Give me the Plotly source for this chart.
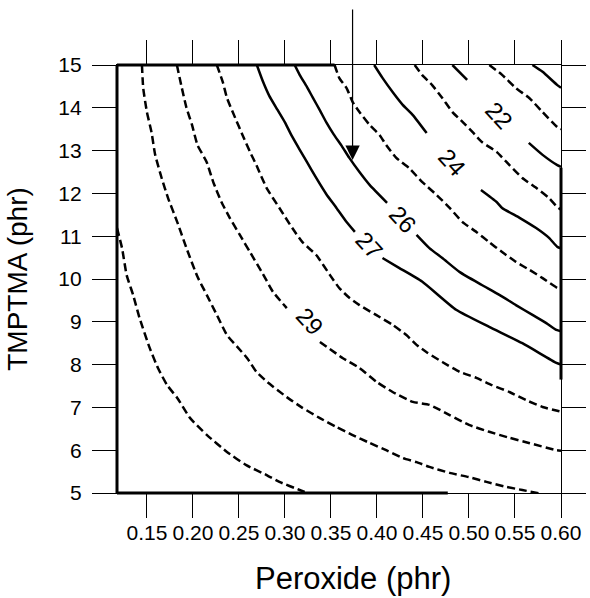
import plotly.graph_objects as go

# ---------------- data ----------------
x_ticks = [0.15, 0.20, 0.25, 0.30, 0.35, 0.40, 0.45, 0.50, 0.55, 0.60]
y_ticks = [5, 6, 7, 8, 9, 10, 11, 12, 13, 14, 15]

# contour lines, from lower-left (high value) to upper-right (low value)
c31_x = [0.1175, 0.123, 0.128, 0.135, 0.142, 0.153, 0.162, 0.172, 0.183, 0.197, 0.215, 0.237, 0.258, 0.280, 0.294, 0.316, 0.325]
c31_y = [11.19, 10.72, 10.09, 9.63, 9.09, 8.39, 7.92, 7.52, 7.22, 6.75, 6.36, 5.96, 5.65, 5.42, 5.26, 5.07, 5.0]

c30_x = [0.1446, 0.146, 0.150, 0.155, 0.159, 0.166, 0.173, 0.183, 0.193, 0.205, 0.215, 0.226, 0.237, 0.248, 0.259, 0.269, 0.281,
         0.302, 0.319, 0.338, 0.356, 0.373, 0.392, 0.410, 0.428, 0.443, 0.457, 0.479, 0.500, 0.519, 0.541, 0.558, 0.579]
c30_y = [15.0, 14.46, 13.90, 13.43, 12.90, 12.36, 11.89, 11.33, 10.72, 10.05, 9.63, 9.16, 8.69, 8.42, 8.15, 7.83, 7.59,
         7.24, 6.99, 6.75, 6.54, 6.36, 6.17, 6.00, 5.82, 5.72, 5.61, 5.47, 5.37, 5.26, 5.14, 5.07, 4.98]

c29_x = [0.1826, 0.188, 0.193, 0.199, 0.205, 0.215, 0.222, 0.231, 0.240, 0.251, 0.262, 0.276, 0.287, 0.302, None,
         0.338, 0.363, 0.381, 0.400, 0.417, 0.439, 0.457, 0.479, 0.500, 0.522, 0.544, 0.565, 0.595, 0.600]
c29_y = [15.0, 14.46, 14.0, 13.6, 13.13, 12.73, 12.27, 11.8, 11.43, 11.03, 10.63, 10.12, 9.70, 9.32, None,
         8.53, 8.15, 7.92, 7.59, 7.36, 7.13, 7.06, 6.82, 6.59, 6.43, 6.29, 6.17, 6.0, 5.99]

c28_x = [0.226, 0.2325, 0.237, 0.246, 0.254, 0.262, 0.269, 0.280, 0.294, 0.308, 0.319, 0.334, 0.349, 0.359, 0.370, 0.381,
         0.399, 0.417, 0.432, 0.443, 0.454, 0.471, 0.490, 0.508, 0.525, 0.544, 0.562, 0.580, 0.596, 0.600]
c28_y = [15.0, 14.6, 14.23, 13.76, 13.36, 12.97, 12.66, 12.13, 11.66, 11.19, 10.86, 10.56, 10.09, 9.79, 9.56, 9.39,
         9.16, 8.93, 8.69, 8.46, 8.29, 8.06, 7.83, 7.69, 7.52, 7.36, 7.17, 7.01, 6.92, 6.90]

c27_x = [0.2695, 0.276, 0.283, 0.292, 0.300, 0.307, 0.315, 0.324, 0.334, 0.345, 0.356, 0.367, 0.376, None,
         0.406, 0.424, 0.449, 0.486, 0.522, 0.558, 0.595, 0.600]
c27_y = [15.0, 14.62, 14.28, 13.95, 13.66, 13.36, 13.06, 12.73, 12.36, 11.98, 11.66, 11.33, 11.10, None,
         10.49, 10.26, 9.94, 9.28, 8.88, 8.50, 8.04, 8.0]

c26_x = [0.3106, 0.316, 0.3236, 0.330, 0.338, 0.345, 0.353, 0.362, 0.370, 0.381, 0.392, 0.411, None,
         0.443, 0.457, 0.471, 0.490, 0.514, 0.533, 0.551, 0.569, 0.584, 0.595, 0.600]
c26_y = [15.0, 14.77, 14.50, 14.25, 13.94, 13.66, 13.38, 13.10, 12.83, 12.50, 12.20, 11.78, None,
         11.03, 10.72, 10.49, 10.16, 9.86, 9.63, 9.39, 9.16, 8.97, 8.81, 8.78]

c25_x = [0.354, 0.359, 0.367, 0.3735, 0.381, 0.392, 0.403, 0.410, 0.421, 0.435, 0.449, 0.465, 0.479, 0.493, 0.508,
         0.522, 0.536, 0.551, 0.566, 0.580, 0.596, 0.600]
c25_y = [15.0, 14.70, 14.46, 14.14, 13.90, 13.60, 13.36, 13.13, 12.83, 12.59, 12.27, 11.96, 11.66, 11.33, 11.10,
         10.86, 10.63, 10.40, 10.21, 10.02, 9.79, 9.76]

c24_x = [0.397, 0.406, 0.417, 0.428, 0.439, 0.454, None, 0.513, 0.530, 0.536, 0.555, 0.573, 0.587, 0.596, 0.600]
c24_y = [15.0, 14.70, 14.37, 14.07, 13.83, 13.41, None, 12.08, 11.80, 11.66, 11.43, 11.19, 10.96, 10.75, 10.72]

c23_x = [0.441, 0.449, 0.460, 0.471, 0.482, 0.493, 0.504, 0.514, 0.530, 0.544, 0.558, 0.573, 0.587, 0.596, 0.600]
c23_y = [15.0, 14.77, 14.53, 14.23, 13.90, 13.67, 13.43, 13.20, 12.97, 12.66, 12.36, 12.13, 11.89, 11.68, 11.62]

c22_x = [0.482, 0.498, None, 0.565, 0.580, 0.596, 0.600]
c22_y = [15.0, 14.65, None, 13.18, 12.90, 12.66, 12.62]

c21_x = [0.5221, 0.536, 0.551, 0.5655, 0.580, 0.596, 0.600]
c21_y = [15.0, 14.77, 14.46, 14.23, 13.90, 13.55, 13.50]

c20_x = [0.569, 0.580, 0.596, 0.600]
c20_y = [15.0, 14.84, 14.53, 14.47]

label_text = ["29", "27", "26", "24", "22"]
label_x = [0.327, 0.392, 0.428, 0.482, 0.533]
label_y = [9.0, 10.79, 11.38, 12.73, 13.83]

arrow_x = 0.3735
arrow_y = 12.78

x_title = "Peroxide (phr)"
y_title = "TMPTMA (phr)"

# ---------------- figure ----------------
contours = [
    (c31_x, c31_y, "dash"), (c30_x, c30_y, "dash"), (c29_x, c29_y, "dash"),
    (c28_x, c28_y, "dash"), (c27_x, c27_y, "solid"), (c26_x, c26_y, "solid"),
    (c25_x, c25_y, "dash"), (c24_x, c24_y, "solid"), (c23_x, c23_y, "dash"),
    (c22_x, c22_y, "solid"), (c21_x, c21_y, "dash"), (c20_x, c20_y, "solid"),
]

fig = go.Figure()
for xs, ys, style in contours:
    fig.add_trace(go.Scatter(
        x=xs, y=ys, mode="lines", showlegend=False, hoverinfo="skip",
        line=dict(color="black", width=2.5,
                  dash="8px,4px" if style == "dash" else "solid",
                  shape="spline", smoothing=0.5),
        connectgaps=False,
    ))

FONT = "Liberation Sans, Arial, sans-serif"

for t, lx, ly in zip(label_text, label_x, label_y):
    fig.add_annotation(x=lx, y=ly, text=t, showarrow=False, textangle=48,
                       font=dict(family=FONT, size=24, color="black"))

fig.add_annotation(x=arrow_x, y=arrow_y, ax=0, ay=-152, axref="pixel", ayref="pixel",
                   showarrow=True, arrowhead=2, arrowsize=2.4, arrowwidth=1.2,
                   arrowcolor="black", text="")

# x-axis title (slightly right of centre, as in the original)
fig.add_annotation(xref="paper", yref="paper", x=0.532, y=0, yshift=-85,
                   xanchor="center", yanchor="middle", showarrow=False, text=x_title,
                   font=dict(family=FONT, size=31, color="black"))

# thick parts of the frame (as in the scanned original)
thick = dict(color="black", width=3)
fig.add_shape(type="line", xref="paper", yref="paper", x0=0, x1=0, y0=0, y1=1, line=thick)
fig.add_shape(type="line", xref="paper", yref="paper", x0=0, x1=0.49, y0=1, y1=1, line=thick)
fig.add_shape(type="line", xref="paper", yref="paper", x0=0, x1=0.745, y0=0, y1=0, line=thick)
fig.add_shape(type="line", xref="paper", yref="paper", x0=1, x1=1, y0=0.265, y1=0.76, line=thick)

axis_common = dict(
    showgrid=False, zeroline=False, showline=True, linecolor="black", linewidth=1.2,
    mirror="ticks", ticks="outside", ticklen=24, tickwidth=1.3, tickcolor="black",
    tickfont=dict(family=FONT, size=21, color="black"),
)

fig.update_xaxes(
    range=[0.1175, 0.6], tickvals=x_ticks, ticktext=[f"{v:.2f}" for v in x_ticks],
    ticklabelstandoff=-3,
    **axis_common,
)
fig.update_yaxes(
    range=[5, 15], tickvals=y_ticks, ticktext=[str(v) for v in y_ticks],
    title=dict(text=y_title, font=dict(family=FONT, size=28, color="black"), standoff=22),
    ticklabelstandoff=6,
    **axis_common,
)

fig.update_layout(
    width=590, height=598,
    margin=dict(l=117, r=29, t=65, b=105, autoexpand=False),
    paper_bgcolor="white", plot_bgcolor="white",
    font=dict(family=FONT, color="black"),
)

fig.write_html("out.html")
